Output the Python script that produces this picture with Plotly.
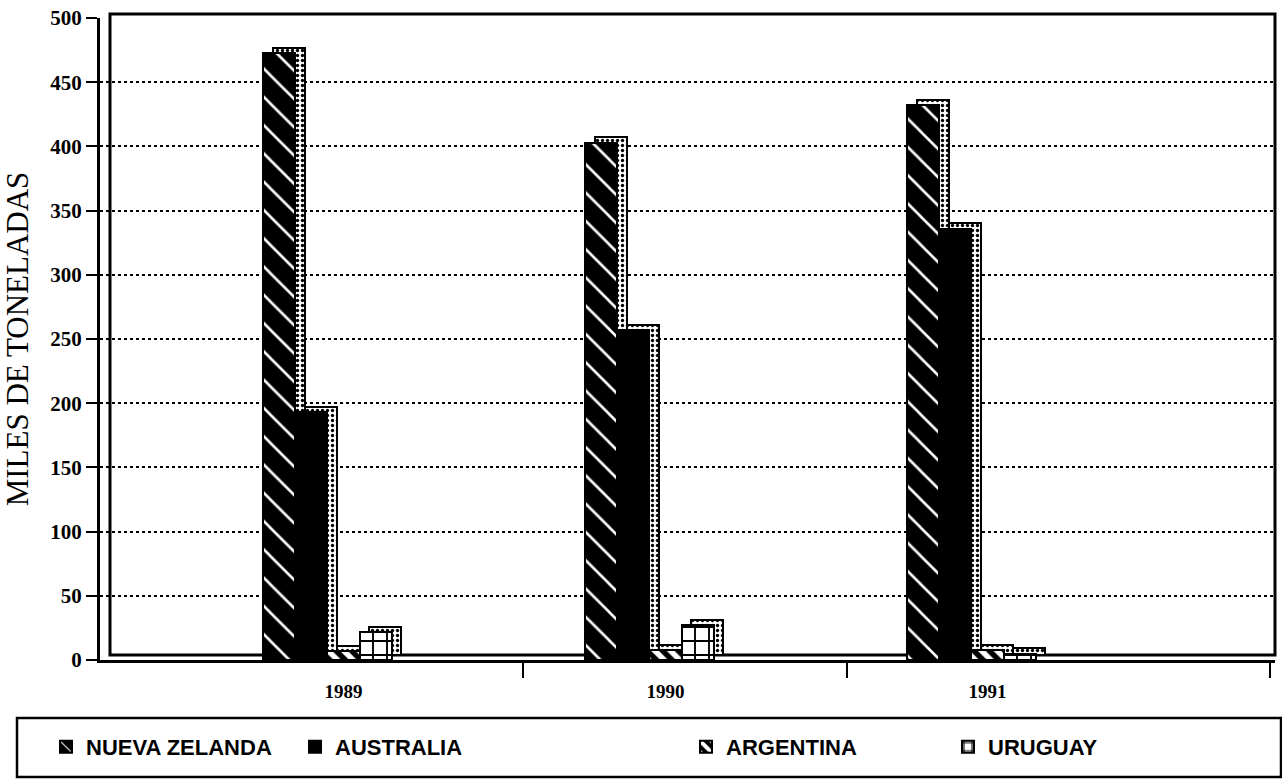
import plotly.graph_objects as go

# Exportaciones por año (miles de toneladas)
years = ["1989", "1990", "1991"]
nueva_zelanda = [473, 403, 432]
australia = [193, 257, 336]
argentina = [7, 8, 8]
uruguay = [22, 27, 5]
y_ticks = [0, 50, 100, 150, 200, 250, 300, 350, 400, 450, 500]

series = [
    ("NUEVA ZELANDA", nueva_zelanda, dict(shape="\\", fgcolor="white", bgcolor="black", size=20, solidity=0.13, fgopacity=1)),
    ("AUSTRALIA", australia, dict(shape="", fgcolor="black", bgcolor="black")),
    ("ARGENTINA", argentina, dict(shape="\\", fgcolor="white", bgcolor="black", size=11, solidity=0.5, fgopacity=1)),
    ("URUGUAY", uruguay, dict(shape="+", fgcolor="black", bgcolor="white", size=14, solidity=0.25, fgopacity=1)),
]

BAR_W = 0.1          # ancho de cada barra (unidades de categoría)
DEPTH_X = 0.03       # desplazamiento lateral de la cara posterior
DEPTH_Y = 4          # elevación de la cara posterior (unidades del eje y)
xpos = list(range(len(years)))

fig = go.Figure()

# Caras laterales/superiores punteadas (efecto 3D), dibujadas detrás
for i, (name, vals, pat) in enumerate(series):
    off = -0.2 + i * BAR_W
    fig.add_trace(go.Bar(
        x=xpos, y=vals, base=DEPTH_Y, width=BAR_W, offset=off + DEPTH_X,
        marker=dict(color="white", line=dict(color="black", width=2),
                    pattern=dict(shape=".", fgcolor="black", bgcolor="white", size=5,
                                 solidity=0.35, fgopacity=1)),
        showlegend=False, hoverinfo="skip",
    ))

# Caras frontales
legend_ids = ["legend", "legend2", "legend3", "legend4"]
for i, (name, vals, pat) in enumerate(series):
    off = -0.2 + i * BAR_W
    fig.add_trace(go.Bar(
        x=xpos, y=vals, width=BAR_W, offset=off, name=name,
        marker=dict(color=pat["bgcolor"], line=dict(color="black", width=2), pattern=pat),
        legend=legend_ids[i],
    ))

# Conversión de píxeles a coordenadas de papel
PX_L, PX_R, PX_T, PX_B = 100, 1275, 18, 660
def px(x):
    return (x - PX_L) / (PX_R - PX_L)
def py(y):
    return (PX_B - y) / (PX_B - PX_T)

legend_font = dict(family="Liberation Sans", size=22, color="black", weight="bold")
legend_text_x = [88, 337, 728, 990]
legends = {}
for lid, tx in zip(legend_ids, legend_text_x):
    legends[lid] = dict(x=px(tx - 42), y=py(747), xanchor="left", yanchor="middle",
                        orientation="h", font=legend_font, bgcolor="rgba(0,0,0,0)",
                        borderwidth=0)

fig.update_layout(
    width=1282, height=779,
    margin=dict(l=PX_L, r=1282 - PX_R, t=PX_T, b=779 - PX_B),
    paper_bgcolor="white", plot_bgcolor="white",
    barmode="overlay", bargap=0,
    font=dict(family="Liberation Serif", color="black"),
    shapes=[
        # pared del fondo del gráfico
        dict(type="rect", xref="paper", yref="paper", layer="below",
             x0=px(110), x1=px(1275), y0=py(655), y1=py(14),
             line=dict(color="black", width=3), fillcolor="rgba(0,0,0,0)"),
        # marco de la leyenda
        dict(type="rect", xref="paper", yref="paper",
             x0=px(17), x1=px(1281), y0=py(777), y1=py(718),
             line=dict(color="black", width=2.5), fillcolor="rgba(0,0,0,0)"),
    ],
    **legends,
)

fig.update_xaxes(
    range=[(PX_L - 327.4) / 322, (PX_R - 327.4) / 322],
    tickmode="array", tickvals=[x + 0.05 for x in xpos], ticktext=years,
    ticks="", ticklabelstandoff=12,
    tickfont=dict(family="Liberation Serif", size=19, color="black", weight="bold"),
    showline=True, linecolor="black", linewidth=3, showgrid=False, zeroline=False,
    minor=dict(tickmode="array", tickvals=[0.607, 1.613, 2.927], ticks="outside",
               ticklen=15, tickwidth=2, tickcolor="black", showgrid=False),
)

fig.update_yaxes(
    range=[0, 500], tickmode="array", tickvals=y_ticks,
    ticks="outside", ticklen=11, tickwidth=2, tickcolor="black",
    tickfont=dict(family="Liberation Serif", size=21, color="black", weight="bold"),
    showline=True, linecolor="black", linewidth=3,
    showgrid=True, gridcolor="black", griddash="dot", gridwidth=2, zeroline=False,
    title=dict(text="MILES DE TONELADAS", standoff=14,
               font=dict(family="Liberation Serif", size=31, color="black")),
)

fig.write_html("out.html")
